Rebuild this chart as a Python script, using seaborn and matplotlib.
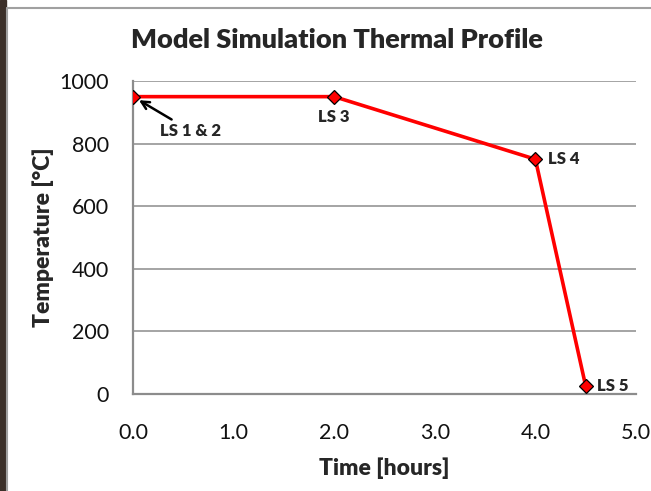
import numpy as np
import pandas as pd
import matplotlib
matplotlib.use("Agg")
import matplotlib.pyplot as plt
import seaborn as sns
from matplotlib.ticker import MultipleLocator, FormatStrFormatter
from matplotlib.patches import Rectangle
from matplotlib.lines import Line2D

# ===================== DATA =====================
time_hours = [0.0, 2.0, 4.0, 4.5]
temperature = [950, 950, 750, 25]
point_labels = ["LS 1 & 2", "LS 3", "LS 4", "LS 5"]

df = pd.DataFrame({"Time": time_hours, "Temp": temperature})

# ===================== STYLE =====================
sns.set_style("white")
plt.rcParams["font.family"] = ["Lato", "DejaVu Sans"]

AX_GRAY = "#8c8c8c"
BOLD = "heavy"

fig = plt.figure(figsize=(6.51, 4.91), dpi=100)
ax = fig.add_axes([133 / 651, 1 - 394 / 491, 503 / 651, 313 / 491])

sns.lineplot(data=df, x="Time", y="Temp", ax=ax, color="#ff0000", linewidth=2.6,
             marker="D", markersize=7.5, markerfacecolor="#ff0000",
             markeredgecolor="black", markeredgewidth=0.9, zorder=5)

ax.set_xlim(0, 5)
ax.set_ylim(0, 1000)
ax.xaxis.set_major_locator(MultipleLocator(1.0))
ax.xaxis.set_minor_locator(MultipleLocator(0.5))
ax.yaxis.set_major_locator(MultipleLocator(200))
ax.yaxis.set_minor_locator(MultipleLocator(100))
ax.xaxis.set_major_formatter(FormatStrFormatter("%.1f"))

ax.grid(axis="y", which="major", color=AX_GRAY, linewidth=1.1)
ax.set_axisbelow(True)
for side in ["top", "right"]:
    ax.spines[side].set_visible(False)
for side in ["left", "bottom"]:
    ax.spines[side].set_color(AX_GRAY)
    ax.spines[side].set_linewidth(1.6)

ax.tick_params(axis="x", which="major", direction="inout", length=10, width=1.1,
               color=AX_GRAY, labelsize=15.5, pad=16)
ax.tick_params(axis="x", which="minor", direction="out", length=5, width=1.1, color=AX_GRAY)
ax.tick_params(axis="y", which="major", direction="out", length=7, width=1.1,
               color=AX_GRAY, labelsize=15.5, pad=10.5)
ax.tick_params(axis="y", which="minor", direction="in", length=5, width=1.1, color=AX_GRAY)
for lbl in ax.get_xticklabels() + ax.get_yticklabels():
    lbl.set_color("#111111")

ax.set_xlabel("Time [hours]", fontsize=16.5, fontweight=BOLD, labelpad=10)
ax.set_ylabel("Temperature [°C]", fontsize=16.5, fontweight=BOLD, labelpad=4)

# ===================== ANNOTATIONS =====================
ax.annotate(point_labels[0], xy=(time_hours[0], temperature[0]), xytext=(0.27, 841),
            fontsize=12, fontweight=BOLD, ha="left", va="center",
            arrowprops=dict(arrowstyle="->", color="black", lw=1.8,
                            shrinkA=0, shrinkB=5, mutation_scale=14))
ax.annotate(point_labels[1], xy=(time_hours[1], temperature[1]), xytext=(0, -15),
            textcoords="offset points", fontsize=12, fontweight=BOLD, ha="center", va="center")
ax.annotate(point_labels[2], xy=(time_hours[2], temperature[2]), xytext=(9, 0),
            textcoords="offset points", fontsize=12, fontweight=BOLD, ha="left", va="center")
ax.annotate(point_labels[3], xy=(time_hours[3], temperature[3]), xytext=(8, 0),
            textcoords="offset points", fontsize=12, fontweight=BOLD, ha="left", va="center")

fig.text(337 / 651, 1 - 40 / 491, "Model Simulation Thermal Profile", fontsize=19.5,
         fontweight=BOLD, ha="center", va="center")

# ===================== FRAME =====================
fig.patches.append(Rectangle((0, 0), 6 / 651, 1, transform=fig.transFigure,
                             color="#3b2f28", zorder=0))
fig.lines.append(Line2D([7 / 651, 7 / 651], [0, 1 - 8 / 491], transform=fig.transFigure,
                        color="#a0a0a0", linewidth=1.5))
fig.lines.append(Line2D([7 / 651, 1], [1 - 8 / 491, 1 - 8 / 491], transform=fig.transFigure,
                        color="#a0a0a0", linewidth=1.5))

fig.savefig("out.png", dpi=100)
